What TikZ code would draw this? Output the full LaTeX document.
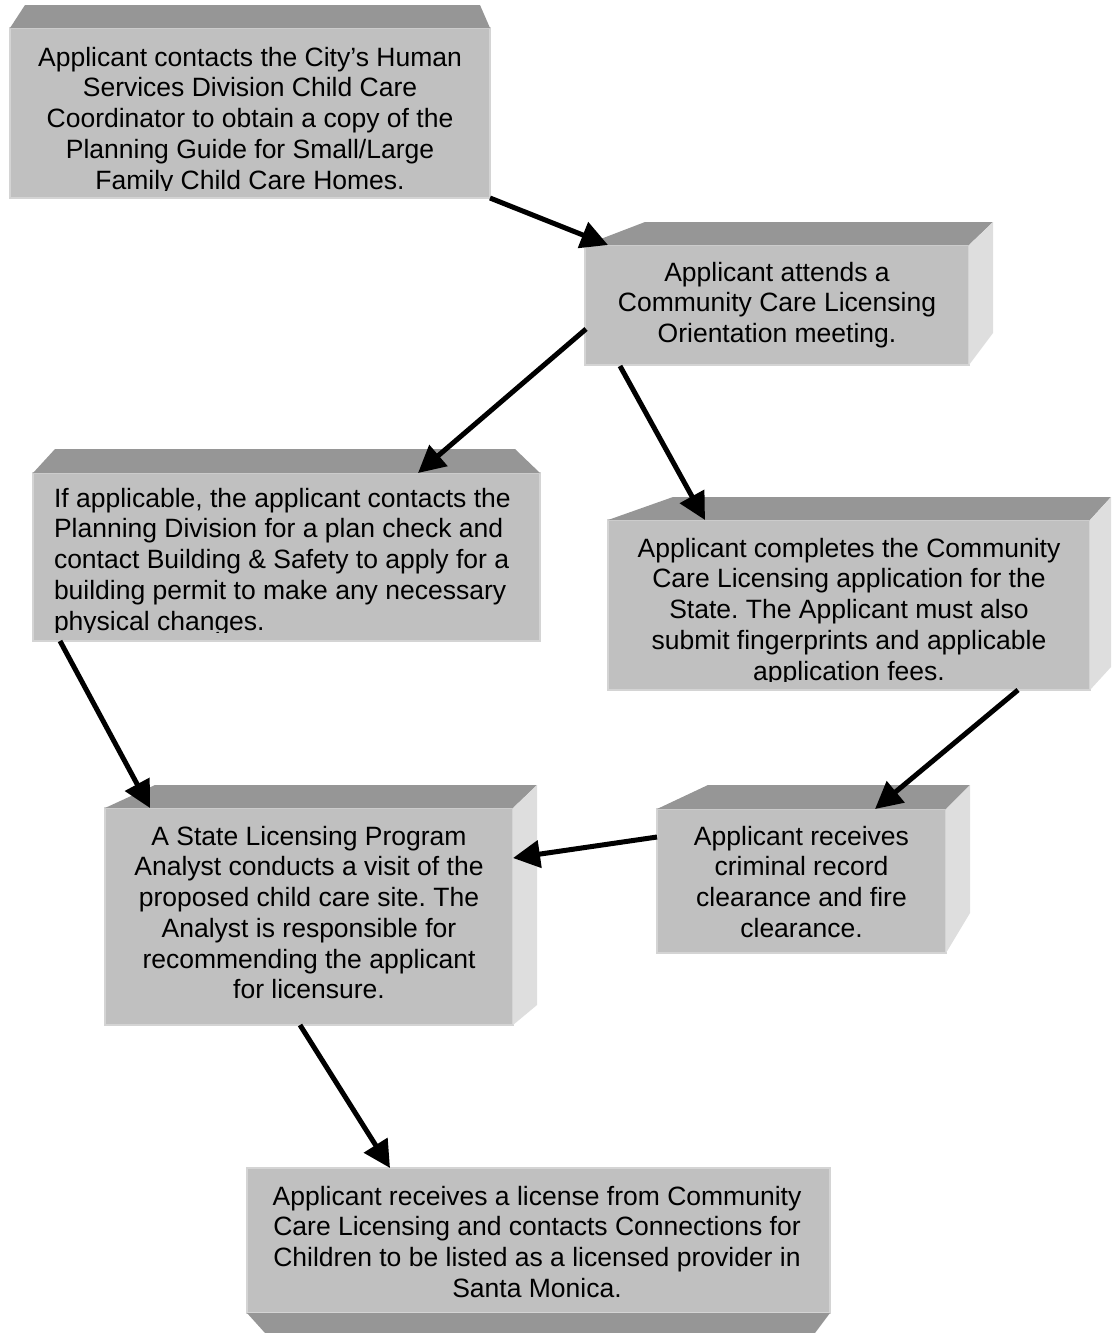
\documentclass[tikz,border=0pt]{standalone}
\usepackage{fontspec}
\setmainfont{Liberation Sans}
\usetikzlibrary{arrows.meta,calc}
\definecolor{frontc}{RGB}{192,192,192}
\definecolor{topc}{RGB}{150,150,150}
\definecolor{sidec}{RGB}{222,222,222}
\definecolor{edgec}{RGB}{212,212,212}
\frenchspacing
\begin{document}
\begin{tikzpicture}[x=1pt,y=-1pt,
  frontbox/.style={rectangle, fill=frontc, draw=edgec, line width=1.5pt, inner sep=0pt, outer sep=0pt},
  topface/.style={fill=topc},
  sideface/.style={fill=sidec},
  boxtext/.style={font=\fontsize{26.5}{30.7}\selectfont\frenchspacing, align=center, inner sep=0pt, outer sep=0pt, anchor=north},
  flow/.style={line width=5pt, -{Triangle[length=27pt,width=27pt]}}]
\useasboundingbox (0,0) rectangle (1111,1333);

% front faces
\node[frontbox, minimum width=480, minimum height=170] (a) at (250,113) {};
\node[frontbox, minimum width=384, minimum height=120] (b) at (777,305) {};
\node[frontbox, minimum width=507, minimum height=168] (c) at (286.5,557) {};
\node[frontbox, minimum width=482, minimum height=170] (d) at (849,605) {};
\node[frontbox, minimum width=408, minimum height=217] (e) at (309,916.5) {};
\node[frontbox, minimum width=289, minimum height=144] (f) at (801.5,881) {};
\node[frontbox, minimum width=583, minimum height=145] (g) at (538.5,1240.5) {};

% top / side / bottom faces
\fill[topface] (a.north west) -- ++(15,-23) -- ($(a.north east)+(-10,-23)$) -- (a.north east) -- cycle;
\fill[topface] (b.north west) -- ++(60,-23) -- ($(b.north east)+(24,-23)$) -- (b.north east) -- cycle;
\fill[sideface] (b.north east) -- ++(24,-23) -- ($(b.south east)+(24,-32)$) -- (b.south east) -- cycle;
\fill[topface] (c.north west) -- ++(22,-24) -- ($(c.north east)+(-25,-24)$) -- (c.north east) -- cycle;
\fill[topface] (d.north west) -- ++(65,-23) -- ($(d.north east)+(21,-23)$) -- (d.north east) -- cycle;
\fill[sideface] (d.north east) -- ++(21,-23) -- ($(d.south east)+(21,-23)$) -- (d.south east) -- cycle;
\fill[topface] (e.north west) -- ++(50,-23) -- ($(e.north east)+(24,-23)$) -- (e.north east) -- cycle;
\fill[sideface] (e.north east) -- ++(24,-23) -- ($(e.south east)+(24,-20)$) -- (e.south east) -- cycle;
\fill[topface] (f.north west) -- ++(51,-24) -- ($(f.north east)+(24,-24)$) -- (f.north east) -- cycle;
\fill[sideface] (f.north east) -- ++(24,-24) -- ($(f.south east)+(24,-40)$) -- (f.south east) -- cycle;
\fill[topface] (g.south west) -- ++(18,20) -- ($(g.south east)+(-15,20)$) -- (g.south east) -- cycle;

% texts
\begin{scope}
\clip ($(a.south west)+(0,-8)$) rectangle (a.north east);
\node[boxtext] (ta) at (250,47) {Applicant contacts the City’s Human\\Services Division Child Care\\Coordinator to obtain a copy of the\\Planning Guide for Small/Large\\Family Child Care Homes.};
\end{scope}
\node[boxtext] (tb) at (777,262) {Applicant attends a\\Community Care Licensing\\Orientation meeting.};
\begin{scope}
\clip ($(c.south west)+(0,-9)$) rectangle (c.north east);
\node[boxtext, align=left, anchor=north west] (tc) at (54,488) {If applicable, the applicant contacts the\\Planning Division for a plan check and\\contact Building \& Safety to apply for a\\building permit to make any necessary\\physical changes.};
\end{scope}
\begin{scope}
\clip ($(d.south west)+(0,-9)$) rectangle (d.north east);
\node[boxtext] (td) at (849,538) {Applicant completes the Community\\Care Licensing application for the\\State. The Applicant must also\\submit fingerprints and applicable\\application fees.};
\end{scope}
\node[boxtext] (te) at (309,826) {A State Licensing Program\\Analyst conducts a visit of the\\proposed child care site. The\\Analyst is responsible for\\recommending the applicant\\for licensure.};
\node[boxtext] (tf) at (801.5,826) {Applicant receives\\criminal record\\clearance and fire\\clearance.};
\node[boxtext] (tg) at (537,1186) {Applicant receives a license from Community\\Care Licensing and contacts Connections for\\Children to be listed as a licensed provider in\\Santa Monica.};

% arrows
\draw[flow] (a.south east) -- ($(b.north west)+(23,0)$);
\draw[flow] ($(b.north west)+(1,84)$) -- ($(c.north west)+(385,0)$);
\draw[flow] ($(b.south west)+(35,1)$) -- ($(d.north west)+(97,0)$);
\draw[flow] ($(c.south west)+(27,0)$) -- ($(e.north west)+(45,0)$);
\draw[flow] ($(d.south west)+(410,0)$) -- ($(f.north west)+(218,0)$);
\draw[flow] ($(f.north west)+(0,28)$) -- ($(e.north east)+(0,50)$);
\draw[flow] ($(e.south west)+(195,0)$) -- ($(g.north west)+(143,0)$);
\end{tikzpicture}
\end{document}
